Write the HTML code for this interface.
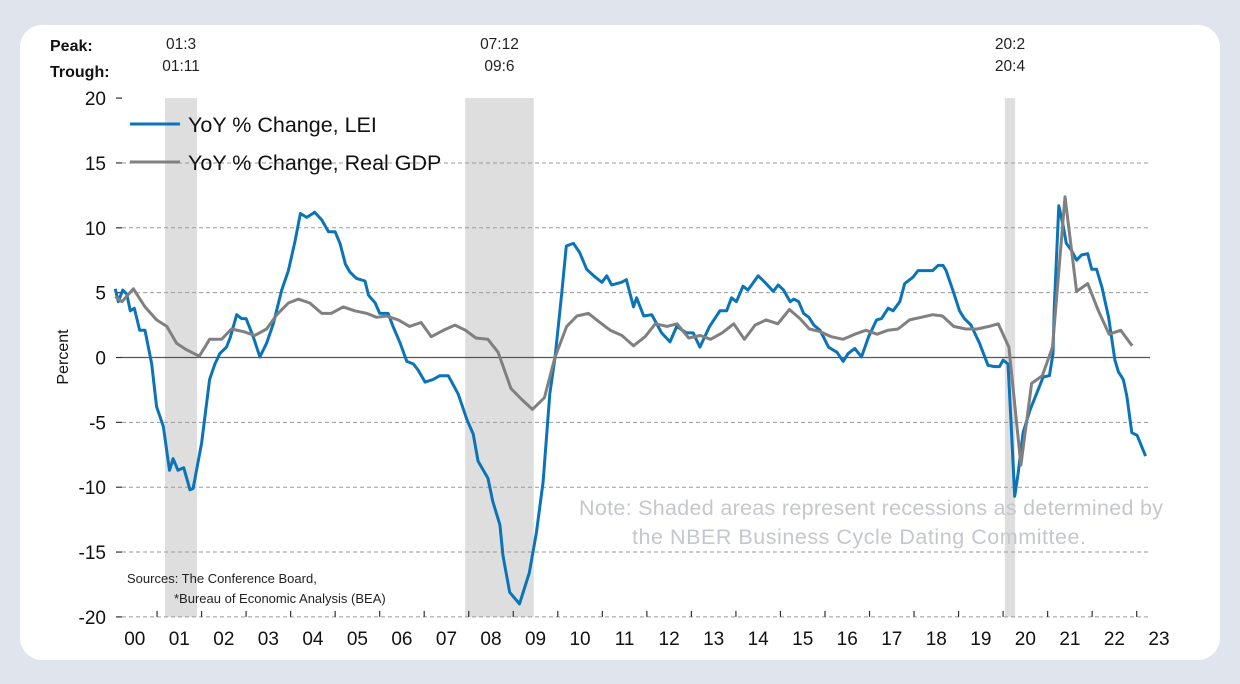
<!DOCTYPE html>
<html><head><meta charset="utf-8">
<style>
html,body{margin:0;padding:0;background:#dfe4ed;}
#card{position:absolute;left:20px;top:25px;width:1200px;height:635px;background:#fff;border-radius:22px;}
svg{position:absolute;left:0;top:0;}
text{font-family:"Liberation Sans",sans-serif;}
</style></head>
<body>
<div id="card"></div>
<svg id="chart" width="1240" height="684"></svg>
<script>
const yTicks=[20,15,10,5,0,-5,-10,-15,-20];
const yearLabels=["00","01","02","03","04","05","06","07","08","09","10","11","12","13","14","15","16","17","18","19","20","21","22","23"];
const recessions=[[2001.18,2001.90],[2007.92,2009.46],[2020.04,2020.27]];
const peakLabels=["01:3","07:12","20:2"];
const troughLabels=["01:11","09:6","20:4"];
const leiDates=[2000.06,2000.13,2000.23,2000.32,2000.40,2000.49,2000.61,2000.73,2000.88,2000.99,2001.14,2001.28,2001.36,2001.47,2001.60,2001.74,2001.81,2002.00,2002.18,2002.30,2002.41,2002.56,2002.64,2002.79,2002.90,2003.00,2003.16,2003.31,2003.46,2003.61,2003.80,2003.95,2004.10,2004.22,2004.36,2004.54,2004.70,2004.85,2005.00,2005.11,2005.23,2005.33,2005.48,2005.67,2005.75,2005.90,2006.00,2006.19,2006.30,2006.46,2006.61,2006.76,2006.87,2007.02,2007.20,2007.35,2007.54,2007.76,2007.96,2008.10,2008.21,2008.43,2008.54,2008.70,2008.77,2008.92,2009.14,2009.36,2009.52,2009.67,2009.82,2009.94,2010.09,2010.19,2010.35,2010.49,2010.65,2010.84,2010.99,2011.10,2011.21,2011.43,2011.54,2011.70,2011.77,2011.93,2012.11,2012.33,2012.52,2012.67,2012.89,2013.04,2013.19,2013.41,2013.64,2013.79,2013.90,2014.01,2014.16,2014.27,2014.50,2014.65,2014.84,2014.95,2015.07,2015.22,2015.30,2015.41,2015.52,2015.64,2015.75,2015.89,2016.08,2016.27,2016.41,2016.52,2016.67,2016.82,2016.98,2017.16,2017.27,2017.42,2017.53,2017.68,2017.79,2017.98,2018.09,2018.24,2018.42,2018.54,2018.65,2018.72,2018.87,2019.02,2019.13,2019.28,2019.47,2019.66,2019.81,2019.92,2020.00,2020.11,2020.18,2020.26,2020.34,2020.45,2020.60,2020.75,2020.90,2021.04,2021.12,2021.15,2021.25,2021.34,2021.42,2021.53,2021.65,2021.76,2021.90,2021.99,2022.10,2022.22,2022.37,2022.51,2022.59,2022.70,2022.78,2022.89,2023.01,2023.20];
const leiValues=[5.3,4.3,5.2,4.9,3.6,3.8,2.1,2.1,-0.5,-3.8,-5.3,-8.7,-7.8,-8.7,-8.5,-10.2,-10.1,-6.6,-1.7,-0.5,0.3,0.8,1.5,3.3,3.0,3.0,1.6,0.05,1.1,2.6,5.2,6.7,9.0,11.1,10.8,11.2,10.6,9.7,9.7,8.8,7.2,6.6,6.1,5.9,4.8,4.2,3.4,3.4,2.4,1.1,-0.3,-0.5,-1.0,-1.9,-1.7,-1.4,-1.4,-2.8,-4.8,-5.9,-8.0,-9.3,-11.1,-12.9,-15.3,-18.1,-19.0,-16.6,-13.5,-9.6,-2.8,0.05,5.0,8.6,8.8,8.1,6.8,6.2,5.8,6.3,5.6,5.8,6.0,3.9,4.6,3.2,3.3,1.9,1.2,2.4,1.9,1.9,0.8,2.4,3.6,3.6,4.6,4.3,5.5,5.2,6.3,5.8,5.1,5.6,5.2,4.3,4.5,4.3,3.4,3.1,2.5,2.1,0.8,0.4,-0.3,0.3,0.7,0.05,1.6,2.9,3.0,3.8,3.6,4.3,5.7,6.2,6.7,6.7,6.7,7.1,7.1,6.7,5.2,3.6,3.0,2.5,1.1,-0.6,-0.7,-0.7,-0.2,-0.5,-5.1,-10.7,-8.9,-5.8,-4.1,-2.8,-1.5,-1.4,0.3,3.9,11.7,10.3,8.8,8.3,7.5,7.9,8.0,6.8,6.8,5.4,3.1,-0.2,-1.1,-1.7,-3.0,-5.8,-6.0,-7.6];
const gdpDates=[2000.06,2000.21,2000.47,2000.73,2000.99,2001.22,2001.44,2001.66,2001.95,2002.18,2002.45,2002.67,2002.94,2003.19,2003.46,2003.69,2003.95,2004.17,2004.43,2004.70,2004.91,2005.18,2005.44,2005.71,2005.93,2006.15,2006.42,2006.67,2006.93,2007.16,2007.43,2007.69,2007.93,2008.16,2008.43,2008.66,2008.95,2009.18,2009.43,2009.70,2009.94,2010.20,2010.43,2010.69,2010.91,2011.18,2011.44,2011.70,2011.96,2012.19,2012.45,2012.68,2012.94,2013.20,2013.43,2013.69,2013.95,2014.19,2014.43,2014.68,2014.94,2015.20,2015.44,2015.65,2015.89,2016.14,2016.41,2016.67,2016.92,2017.17,2017.41,2017.64,2017.90,2018.16,2018.42,2018.64,2018.89,2019.16,2019.42,2019.68,2019.89,2020.13,2020.40,2020.64,2020.88,2021.11,2021.39,2021.65,2021.90,2022.14,2022.38,2022.64,2022.90];
const gdpValues=[4.7,4.3,5.3,3.9,2.9,2.4,1.1,0.6,0.1,1.4,1.4,2.2,2.0,1.7,2.2,3.3,4.2,4.5,4.2,3.4,3.4,3.9,3.6,3.4,3.1,3.2,2.9,2.4,2.7,1.6,2.1,2.5,2.1,1.5,1.4,0.4,-2.4,-3.2,-4.0,-3.1,0.05,2.4,3.2,3.4,2.8,2.1,1.7,0.9,1.6,2.6,2.4,2.6,1.5,1.7,1.4,1.9,2.6,1.4,2.5,2.9,2.6,3.7,3.0,2.2,2.0,1.6,1.4,1.8,2.1,1.8,2.1,2.2,2.9,3.1,3.3,3.2,2.4,2.2,2.2,2.4,2.6,0.8,-8.3,-2.0,-1.4,0.8,12.4,5.1,5.7,3.6,1.8,2.1,0.9];

const NS="http://www.w3.org/2000/svg";
const svg=document.getElementById('chart');
const X=t=>112.5+(t-2000)*44.53;
const Y=v=>357.5-v*12.97;
function mk(tag,attrs,parent){const e=document.createElementNS(NS,tag);for(const k in attrs)e.setAttribute(k,attrs[k]);(parent||svg).appendChild(e);return e;}
function txt(s,attrs){const e=mk('text',attrs);e.textContent=s;return e;}

recessions.forEach((r,i)=>{
  const e=mk('rect',{x:X(r[0]),y:Y(20),width:X(r[1])-X(r[0]),height:Y(-20)-Y(20),fill:'#dedede'});
  
  
  const c=(X(r[0])+X(r[1]))/2;
  const p=txt(peakLabels[i],{x:c,y:49,'font-size':15.5,'text-anchor':'middle',fill:'#222'});
  
  
  const tr=txt(troughLabels[i],{x:c,y:71,'font-size':15.5,'text-anchor':'middle',fill:'#222'});
  
  
});

yTicks.forEach(v=>{
  if(v!==0&&v!==20){
    const g=mk('line',{x1:122,x2:1150,y1:Y(v),y2:Y(v),stroke:'#9a9a9a','stroke-width':1,'stroke-dasharray':'4,3'});
    
    
  }
  const tk=mk('line',{x1:116,x2:122,y1:Y(v),y2:Y(v),stroke:'#333','stroke-width':1.2});
  
  
  const l=txt(String(v),{x:106,y:Y(v)+7,'font-size':19,'text-anchor':'end',fill:'#111'});
  
  
});
const zl=mk('line',{x1:122,x2:1150,y1:Y(0),y2:Y(0),stroke:'#555','stroke-width':1.2});



yearLabels.forEach((s,i)=>{
  if(i>0){
    const tk=mk('line',{x1:X(2000+i),x2:X(2000+i),y1:Y(-20)-6,y2:Y(-20),stroke:'#333','stroke-width':1.2});
    
    
  }
  const l=txt(s,{x:X(2000.5+i),y:645,'font-size':19,'text-anchor':'middle',fill:'#111'});
  
  
});

function path(ds,vs){return ds.map((d,i)=>(i?'L':'M')+X(d).toFixed(1)+','+Y(vs[i]).toFixed(1)).join(' ');}
const lei=mk('path',{d:path(leiDates,leiValues),fill:'none',stroke:'#0b74b8','stroke-width':3,'stroke-linejoin':'round'});


const gdp=mk('path',{d:path(gdpDates,gdpValues),fill:'none',stroke:'#808080','stroke-width':3,'stroke-linejoin':'round'});


</script>
<svg width="1240" height="684" style="position:absolute;left:0;top:0;pointer-events:none">
  <text x="50" y="51" font-size="16" font-weight="bold" fill="#111">Peak:</text>
  <text x="50" y="77" font-size="16" font-weight="bold" fill="#111">Trough:</text>
  <text transform="translate(68,357) rotate(-90)" font-size="16" text-anchor="middle" fill="#111">Percent</text>
  <g>
    <line x1="130" y1="124" x2="180" y2="124" stroke="#0b74b8" stroke-width="3"/>
    <text x="188" y="132" font-size="21.5" fill="#111">YoY % Change, LEI</text>
    <line x1="130" y1="162" x2="180" y2="162" stroke="#808080" stroke-width="3"/>
    <text x="188" y="170" font-size="21.5" fill="#111">YoY % Change, Real GDP</text>
  </g>
  <text x="871" y="515" font-size="21.5" text-anchor="middle" fill="#c5c7ce" textLength="584">Note: Shaded areas represent recessions as determined by</text>
  <text x="859" y="544" font-size="21.5" text-anchor="middle" fill="#c5c7ce" textLength="454">the NBER Business Cycle Dating Committee.</text>
  <text x="127" y="583" font-size="13" fill="#222">Sources: The Conference Board,</text>
  <text x="174" y="603" font-size="13" fill="#222">*Bureau of Economic Analysis (BEA)</text>
</svg>
</body></html>
